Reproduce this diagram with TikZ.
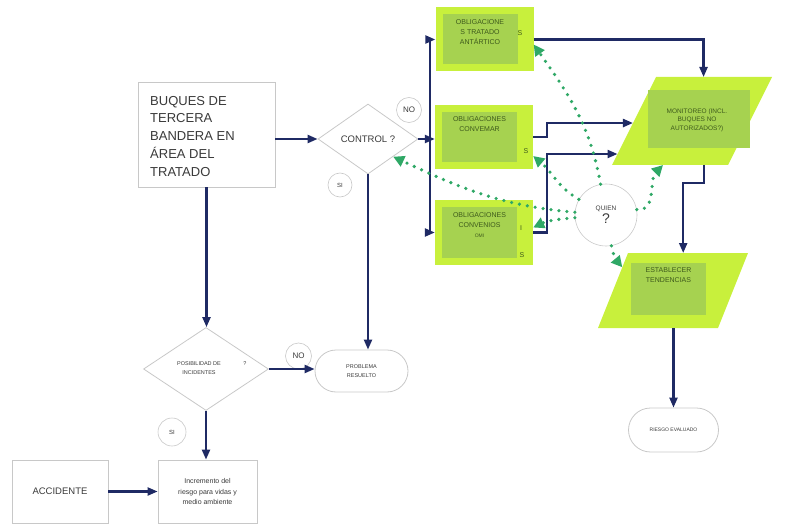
\documentclass[tikz,border=0pt]{standalone}
\usepackage{fontspec}
\setmainfont{Liberation Sans}
\usetikzlibrary{arrows.meta,positioning,calc,shapes.geometric,shapes.misc}
\definecolor{navy}{HTML}{1F2A64}
\definecolor{lime}{HTML}{C8F03C}
\definecolor{limein}{HTML}{A6D250}
\definecolor{olive}{HTML}{3E5A1C}
\definecolor{dotgreen}{HTML}{2FA866}
\definecolor{rim}{HTML}{C8C8C8}
\definecolor{ink}{HTML}{3A3A3A}
\tikzset{
  box/.style={draw=rim, line width=0.8pt, fill=white, text=ink, inner sep=0pt, align=center},
  decision/.style={diamond, draw=rim, line width=0.8pt, inner sep=0pt, text=ink},
  endbox/.style={rounded rectangle, draw=rim, line width=0.8pt, inner sep=0pt, text=ink, align=center},
  tag/.style={circle, draw=rim, line width=0.6pt, inner sep=0pt, text=ink, align=center},
  gbox/.style={fill=lime, inner sep=0pt, minimum width=98pt, minimum height=64pt},
  ginner/.style={fill=limein, inner sep=0pt, anchor=north west, minimum width=75pt, minimum height=50pt},
  gtext/.style={text=olive, align=center, inner sep=1pt, font=\fontsize{7}{10}\selectfont},
  flow/.style={-{Triangle[length=10pt,width=8pt]}, draw=navy, line width=2.2pt},
  who/.style={-{Triangle[length=11pt,width=11pt]}, draw=dotgreen, line width=3.6pt, line cap=round, dash pattern=on 0pt off 8pt},
}
\newcommand{\oblig}[4]{%
  \node[gbox] (#1) at (#2,#3) {};
  \node[ginner] (#1in) at ([shift={(7pt,-7pt)}]#1.north west) {};
  \node[gtext, anchor=north] (#1txt) at ([yshift=-4pt]#1in.north) {#4};}
\newcommand{\slantbox}[6]{%
  \coordinate (#1bl) at (#2-#4/2,#3-#5/2);
  \coordinate (#1br) at (#2+#4/2-#6,#3-#5/2);
  \coordinate (#1tr) at (#2+#4/2,#3+#5/2);
  \coordinate (#1tl) at (#2-#4/2+#6,#3+#5/2);
  \fill[lime] (#1bl) -- (#1br) -- (#1tr) -- (#1tl) -- cycle;}
\begin{document}
\begin{tikzpicture}[x=1pt,y=1pt]
  \useasboundingbox (0,0) rectangle (785,-524);
  \node[box, minimum width=137pt, minimum height=105pt] (buques) at (206.5,-134.5) {};
  \node[anchor=north west, align=left, text=ink, font=\fontsize{13}{17.7}\selectfont, inner sep=0pt] (buqtxt) at (150,-96) {BUQUES DE\\TERCERA\\BANDERA EN\\ÁREA DEL\\TRATADO};
  \node[decision, minimum width=100pt, minimum height=70pt, font=\fontsize{9.5}{11}\selectfont] (ctrl) at (368,-139) {CONTROL ?};
  \node[tag, minimum size=25pt, font=\fontsize{8}{9}\selectfont] (no1) at (409,-110) {NO};
  \node[tag, minimum size=24pt, font=\fontsize{6}{7}\selectfont] (si1) at (340,-185) {SI};
  \oblig{antar}{484.5}{-39.5}{OBLIGACIONE\\S TRATADO\\ANTÁRTICO}
  \oblig{convemar}{484}{-137}{OBLIGACIONES\\CONVEMAR}
  \oblig{omi}{484}{-232.5}{OBLIGACIONES\\CONVENIOS\\{\fontsize{5}{6}\selectfont OMI}}
  \node[gtext] (antars) at (520,-33) {S};
  \node[gtext] (convemars) at (526,-151) {S};
  \node[gtext] (omii) at (521,-228) {I};
  \node[gtext] (omis) at (522,-255) {S};
  \slantbox{mon}{692}{-121}{160}{88}{44}
  \node[fill=limein, minimum width=102pt, minimum height=58pt, inner sep=0pt] (monin) at (699,-119) {};
  \node[gtext, font=\fontsize{6.5}{8.5}\selectfont] (montxt) at (697,-120) {MONITOREO (INCL.\\BUQUES NO\\AUTORIZADOS?)};
  \slantbox{tend}{673}{-290.5}{150}{75}{30}
  \node[fill=limein, minimum width=75pt, minimum height=52pt, inner sep=0pt] (tendin) at (668.5,-289) {};
  \node[gtext, anchor=north] (tendtxt) at ([yshift=-4pt]tendin.north) {ESTABLECER\\TENDENCIAS};
  \node[tag, minimum size=62pt, font=\fontsize{6.5}{9}\selectfont] (quien) at (606,-215) {QUIEN\\[1pt]{\fontsize{14}{15}\selectfont ?}};
  \node[decision, minimum width=125pt, minimum height=83pt] (posib) at (206,-369) {};
  \node[text=ink, align=center, font=\fontsize{5.5}{9}\selectfont] (posibtxt) at (199,-368.5) {POSIBILIDAD DE\\INCIDENTES};
  \node[text=ink, font=\fontsize{5.5}{6}\selectfont] (posibq) at (245,-364) {?};
  \node[tag, minimum size=26pt, font=\fontsize{8}{9}\selectfont] (no2) at (298.5,-356) {NO};
  \node[endbox, minimum width=93pt, minimum height=42pt, font=\fontsize{5.5}{9}\selectfont] (prob) at (361.5,-371) {PROBLEMA\\RESUELTO};
  \node[tag, minimum size=28pt, font=\fontsize{6}{7}\selectfont] (si2) at (172,-432) {SI};
  \node[box, minimum width=99pt, minimum height=63pt, font=\fontsize{7}{10.7}\selectfont] (incr) at (207.5,-491.5) {Incremento del\\riesgo para vidas y\\medio ambiente};
  \node[box, minimum width=96pt, minimum height=63pt, font=\fontsize{9.5}{11}\selectfont] (acc) at (60,-491.5) {ACCIDENTE};
  \node[endbox, minimum width=90pt, minimum height=44pt, font=\fontsize{5}{6}\selectfont] (riesgo) at (673.5,-430) {RIESGO EVALUADO};
  \coordinate (bus) at (430,-139);
  \draw[flow] (buques.east |- ctrl) -- (ctrl);
  \draw[flow] (ctrl.east) -- (ctrl.east -| convemar.west);
  \draw[flow] (bus) |- (antar);
  \draw[flow] (bus) |- (omi);
  \draw[flow] (antar.east) -| ($(montl)!0.41!(montr)$);
  \draw[flow] (convemar.east) -- ++(14,0) |- ($(monbl)!0.477!(montl)$);
  \draw[flow] (omi.east) -- ++(14,0) |- ($(monbl)!0.125!(montl)$);
  \draw[flow] ($(monbl)!0.79!(monbr)$) -- ++(0,-18) -| ($(tendtl)!0.46!(tendtr)$);
  \draw[flow] (riesgo.north |- tendbl) -- (riesgo);
  \draw[flow] (buques.south) -- (buques.south |- posib.north);
  \draw[flow] (ctrl.south) -- (ctrl.south |- prob.north);
  \draw[flow] (posib.east) -- (posib.east -| prob.west);
  \draw[flow] (posib.south) -- (posib.south |- incr.north);
  \draw[flow] (acc) -- (incr);
  \draw[who] (quien.100) to[out=100, in=-55] ([yshift=-5pt]antar.east);
  \draw[who] (quien.175) to[out=175, in=-25] (ctrl.south east);
  \draw[who] (quien.150) to[out=150, in=-40] ([yshift=-19pt]convemar.east);
  \draw[who] (quien.185) to[out=185, in=25] ([yshift=5pt]omi.east);
  \draw[who] (quien.10) to[out=-10, in=-135] ($(monbl)!0.44!(monbr)$);
  \draw[who] (quien.-80) to[out=-80, in=130] ($(tendtl)!0.19!(tendbl)$);
\end{tikzpicture}
\end{document}
